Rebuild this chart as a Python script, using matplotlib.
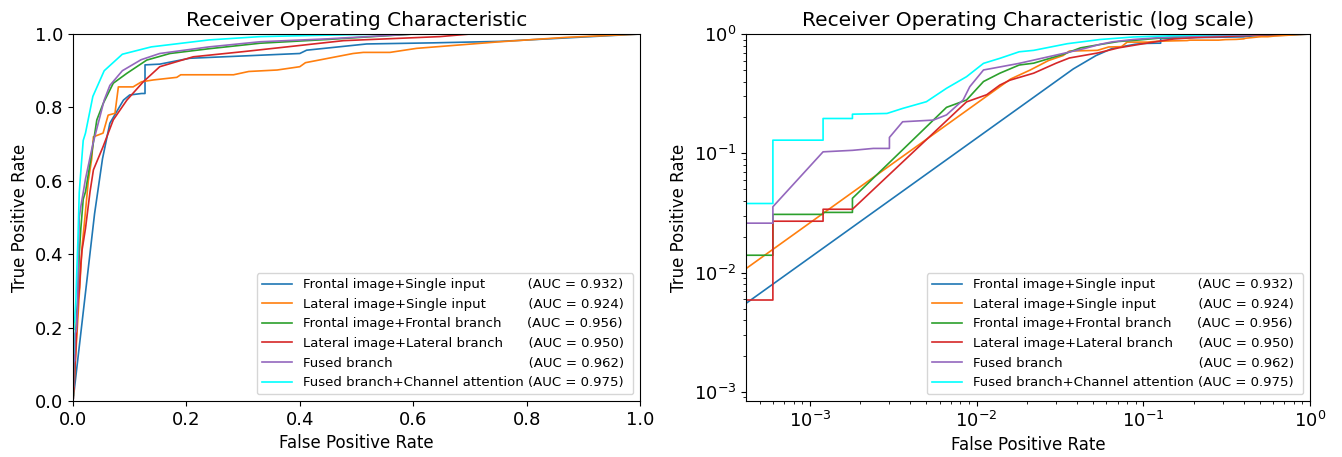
import matplotlib
matplotlib.use("Agg")
import matplotlib.pyplot as plt
from matplotlib.backends.backend_agg import RendererAgg
from matplotlib.font_manager import FontProperties

names = ["Frontal image+Single input", "Lateral image+Single input",
         "Frontal image+Frontal branch", "Lateral image+Lateral branch",
         "Fused branch", "Fused branch+Channel attention"]
aucs = [0.932, 0.924, 0.956, 0.950, 0.962, 0.975]
colors = ["tab:blue", "tab:orange", "tab:green", "tab:red", "tab:purple", "cyan"]

# ROC points (both panels show the same curves)
fpr_frontal_single = [0, 0.038, 0.052, 0.065, 0.089, 0.100, 0.121, 0.127, 0.127, 0.153,
                      0.206, 0.400, 0.412, 0.518, 0.635, 0.753, 1.0]
tpr_frontal_single = [0, 0.51, 0.66, 0.757, 0.82, 0.834, 0.838, 0.838, 0.916, 0.918,
                      0.934, 0.947, 0.956, 0.973, 0.976, 0.98, 1.0]

fpr_lateral_single = [0, 0.016, 0.021, 0.027, 0.033, 0.036, 0.053, 0.062, 0.074, 0.080,
                      0.106, 0.121, 0.142, 0.183, 0.190, 0.283, 0.310, 0.360, 0.400,
                      0.410, 0.494, 0.512, 0.559, 0.606, 0.753, 0.870, 1.0]
tpr_lateral_single = [0, 0.42, 0.50, 0.60, 0.66, 0.72, 0.73, 0.779, 0.784, 0.856,
                      0.856, 0.87, 0.875, 0.882, 0.889, 0.889, 0.898, 0.902, 0.911,
                      0.922, 0.947, 0.95, 0.95, 0.961, 0.979, 0.991, 1.0]

fpr_frontal_branch = [0, 0, 0.0006, 0.0006, 0.0012, 0.0012, 0.0018, 0.0018, 0.0066, 0.0087,
                      0.011, 0.0138, 0.018, 0.022, 0.033, 0.042, 0.053, 0.071, 0.095,
                      0.13, 0.171, 0.24, 0.33, 0.447, 0.6, 1.0]
tpr_frontal_branch = [0, 0.014, 0.014, 0.0308, 0.0308, 0.032, 0.032, 0.042, 0.243, 0.28,
                      0.40, 0.47, 0.55, 0.57, 0.675, 0.766, 0.81, 0.866, 0.893,
                      0.929, 0.947, 0.96, 0.975, 0.985, 1.0, 1.0]

fpr_lateral_branch = [0, 0, 0.0006, 0.0006, 0.0012, 0.0012, 0.0018, 0.0087, 0.0115, 0.0138,
                      0.0158, 0.022, 0.030, 0.036, 0.053, 0.071, 0.095, 0.124, 0.153,
                      0.212, 0.30, 0.389, 0.477, 0.647, 0.70, 1.0]
tpr_lateral_branch = [0, 0.0059, 0.0059, 0.027, 0.027, 0.034, 0.034, 0.27, 0.31, 0.374,
                      0.41, 0.47, 0.57, 0.63, 0.693, 0.766, 0.82, 0.87, 0.911,
                      0.938, 0.952, 0.967, 0.982, 0.993, 1.0, 1.0]

fpr_fused = [0, 0, 0.0006, 0.0006, 0.0012, 0.0018, 0.0024, 0.0030, 0.0030, 0.0036, 0.0055,
             0.0066, 0.0083, 0.0091, 0.011, 0.0138, 0.018, 0.022, 0.035, 0.045, 0.055,
             0.065, 0.087, 0.12, 0.153, 0.24, 0.33, 0.45, 0.6, 1.0]
tpr_fused = [0, 0.026, 0.026, 0.0357, 0.103, 0.106, 0.11, 0.11, 0.136, 0.184, 0.19,
             0.21, 0.28, 0.362, 0.50, 0.53, 0.568, 0.605, 0.70, 0.76, 0.82,
             0.86, 0.90, 0.93, 0.947, 0.965, 0.979, 0.987, 1.0, 1.0]

fpr_fused_ca = [0, 0, 0.0006, 0.0006, 0.0012, 0.0012, 0.0018, 0.0018, 0.0029, 0.0036, 0.0050,
                0.0066, 0.0087, 0.011, 0.0138, 0.018, 0.022, 0.035, 0.055, 0.087, 0.138,
                0.24, 0.33, 0.45, 0.55, 1.0]
tpr_fused_ca = [0, 0.038, 0.038, 0.129, 0.129, 0.196, 0.196, 0.213, 0.216, 0.238, 0.271,
                0.351, 0.439, 0.568, 0.626, 0.71, 0.73, 0.83, 0.90, 0.945, 0.965,
                0.984, 0.993, 0.997, 1.0, 1.0]

fprs = [fpr_frontal_single, fpr_lateral_single, fpr_frontal_branch,
        fpr_lateral_branch, fpr_fused, fpr_fused_ca]
tprs = [tpr_frontal_single, tpr_lateral_single, tpr_frontal_branch,
        tpr_lateral_branch, tpr_fused, tpr_fused_ca]

LEGEND_SIZE = 9.5


def padded_labels():
    # pad names with spaces so the "(AUC = ...)" parts roughly line up
    renderer = RendererAgg(100, 100, 100)
    prop = FontProperties(family="DejaVu Sans", size=LEGEND_SIZE)

    def width(s):
        return renderer.get_text_width_height_descent(s, prop, ismath=False)[0]

    longest = max(names, key=width)
    target = width(longest + " (")
    labels = []
    for name, auc in zip(names, aucs):
        pad = " "
        while abs(width(name + pad + " (") - target) < abs(width(name + pad + "(") - target):
            pad += " "
        labels.append("%s%s(AUC = %.3f) " % (name, pad, auc))
    return labels


labels = padded_labels()

fig = plt.figure(figsize=(13.42, 4.57), dpi=100)
ax1 = fig.add_axes([0.0544, 0.1225, 0.4225, 0.803])
ax2 = fig.add_axes([0.5559, 0.1225, 0.4203, 0.803])

for ax in (ax1, ax2):
    for x, y, c, lab in zip(fprs, tprs, colors, labels):
        ax.plot(x, y, color=c, lw=1.2, label=lab)
    ax.set_xlabel("False Positive Rate", fontsize=12)
    ax.set_ylabel("True Positive Rate", fontsize=12)
    ax.tick_params(labelsize=13)
    ax.legend(loc="lower right", fontsize=LEGEND_SIZE, handlelength=2.3)

ax1.set_xlim(0, 1)
ax1.set_ylim(0, 1)
ax1.set_title("Receiver Operating Characteristic", fontsize=14.5)

ax2.set_xscale("log")
ax2.set_yscale("log")
ax2.set_xlim(4.14e-4, 1)
ax2.set_ylim(8.4e-4, 1)
ax2.set_title("Receiver Operating Characteristic (log scale)", fontsize=14.5)

fig.savefig("out.png", dpi=100)
